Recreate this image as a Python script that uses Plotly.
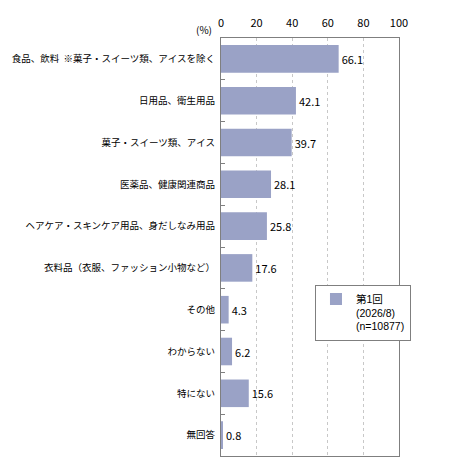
import plotly.graph_objects as go

categories = [
    "食品、飲料  ※菓子・スイーツ類、アイスを除く",
    "日用品、衛生用品",
    "菓子・スイーツ類、アイス",
    "医薬品、健康関連商品",
    "ヘアケア・スキンケア用品、身だしなみ用品",
    "衣料品（衣服、ファッション小物など）",
    "その他",
    "わからない",
    "特にない",
    "無回答",
]
values = [66.1, 42.1, 39.7, 28.1, 25.8, 17.6, 4.3, 6.2, 15.6, 0.8]
x_ticks = [0, 20, 40, 60, 80, 100]
series_name = "第1回<br>(2026/8)<br>(n=10877)"

font = "Noto Sans CJK JP"

fig = go.Figure()
fig.add_trace(go.Bar(
    x=values,
    y=categories,
    orientation="h",
    name=series_name,
    marker=dict(color="#9AA2C6", line=dict(width=0)),
    text=[f"{v:.1f}" for v in values],
    textposition="outside",
    textfont=dict(size=11, color="#000000", family=font),
    cliponaxis=False,
))

# page body adds an 8px offset, so the figure is a bit smaller than the window
fig.update_layout(
    width=460,
    height=467,
    margin=dict(l=213, r=69, t=30, b=19),
    paper_bgcolor="white",
    plot_bgcolor="white",
    bargap=0.34,
    font=dict(family=font, size=10, color="#000000"),
    showlegend=True,
    legend=dict(
        x=0.528, y=0.41, xanchor="left", yanchor="top",
        bordercolor="#7F7F7F", borderwidth=1, bgcolor="white",
        font=dict(size=10.5, family="Liberation Sans, Noto Sans CJK JP"),
        valign="top",
        itemwidth=30,
    ),
    annotations=[dict(
        text="(%)", x=-0.15, y=1.0, xref="paper", yref="paper",
        yshift=18, showarrow=False, font=dict(size=10, family=font),
    )],
)
fig.update_xaxes(
    side="top", range=[0, 100], tickvals=x_ticks,
    showgrid=True, gridcolor="#C8C8C8", griddash="dot", gridwidth=1,
    showline=True, linecolor="#7F7F7F", mirror=True, zeroline=False,
    ticks="", tickfont=dict(size=11), ticklabelstandoff=6,
    automargin=False,
)
fig.update_yaxes(
    autorange="reversed", showline=True, linecolor="#7F7F7F", mirror=True,
    ticks="inside", tickson="boundaries", ticklen=4, tickcolor="#7F7F7F",
    tickfont=dict(size=9.5), automargin=False, ticklabelstandoff=3,
)

fig.write_html("out.html")
